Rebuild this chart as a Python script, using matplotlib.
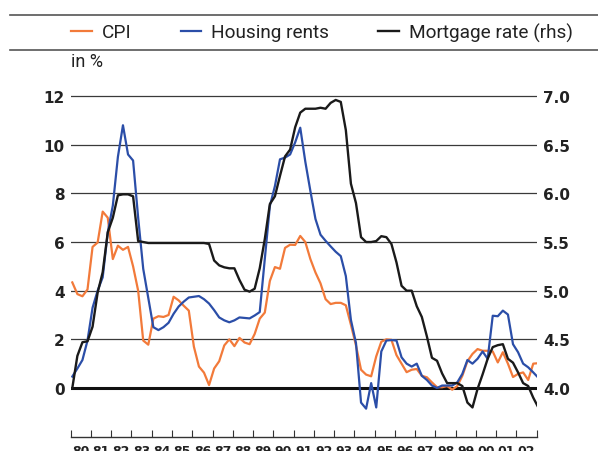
import numpy as np
import matplotlib
matplotlib.use("Agg")
import matplotlib.pyplot as plt
from matplotlib.lines import Line2D

# quarterly readings, 1980 Q1 .. 2003 Q1
cpi = [4.34, 3.86, 3.77, 4.05, 5.8, 5.98, 7.25, 7.0, 5.3, 5.85, 5.68, 5.8, 5.0, 4.0, 1.95, 1.78,
       2.85, 2.95, 2.92, 3.0, 3.75, 3.6, 3.38, 3.18, 1.7, 0.88, 0.63, 0.12, 0.8, 1.1, 1.75, 2.0,
       1.72, 2.06, 1.87, 1.8, 2.22, 2.85, 3.1, 4.4, 4.97, 4.9, 5.76, 5.89, 5.88, 6.25, 6.0, 5.3,
       4.75, 4.3, 3.65, 3.45, 3.5, 3.5, 3.4, 2.6, 1.75, 0.75, 0.55, 0.48, 1.3, 1.9, 2.0, 1.98,
       1.35, 1.0, 0.65, 0.75, 0.78, 0.5, 0.44, 0.23, 0.03, 0.03, 0.08, -0.07, 0.08, 0.5, 1.1, 1.4,
       1.6, 1.53, 1.53, 1.5, 1.05, 1.47, 1.0, 0.45, 0.58, 0.64, 0.33, 1.0, 1.02]
rents = [0.47, 0.8, 1.15, 1.95, 3.3, 4.0, 4.55, 6.4, 7.5, 9.5, 10.8, 9.6, 9.35, 7.0, 4.9, 3.7,
         2.5, 2.38, 2.5, 2.68, 3.05, 3.35, 3.55, 3.72, 3.75, 3.78, 3.65, 3.47, 3.2, 2.9, 2.78, 2.7,
         2.78, 2.9, 2.88, 2.86, 2.98, 3.12, 5.3, 7.48, 8.3, 9.4, 9.47, 9.6, 10.1, 10.7, 9.3, 8.1,
         6.95, 6.3, 6.05, 5.82, 5.6, 5.42, 4.6, 2.8, 1.85, -0.6, -0.85, 0.2, -0.8, 1.5, 1.95, 1.97,
         1.95, 1.26, 1.0, 0.88, 1.0, 0.5, 0.33, 0.1, 0.0, 0.1, 0.1, 0.1, 0.23, 0.58, 1.15, 1.0,
         1.2, 1.5, 1.2, 2.97, 2.95, 3.18, 3.02, 1.8, 1.47, 1.0, 0.85, 0.64, 0.42]
mortgage = [4.0, 4.33, 4.47, 4.48, 4.63, 4.98, 5.19, 5.6, 5.75, 5.98, 5.99, 5.99, 5.97, 5.51, 5.5, 5.49,
            5.49, 5.49, 5.49, 5.49, 5.49, 5.49, 5.49, 5.49, 5.49, 5.49, 5.49, 5.48, 5.31, 5.26, 5.24, 5.23,
            5.23, 5.11, 5.01, 4.99, 5.02, 5.23, 5.53, 5.89, 5.97, 6.18, 6.38, 6.45, 6.68, 6.83, 6.87, 6.87,
            6.87, 6.88, 6.87, 6.93, 6.96, 6.94, 6.65, 6.1, 5.9, 5.55, 5.5, 5.5, 5.51, 5.56, 5.55, 5.48,
            5.29, 5.05, 5.0, 5.0, 4.84, 4.73, 4.53, 4.31, 4.28, 4.15, 4.05, 4.05, 4.05, 4.02, 3.85, 3.8,
            3.99, 4.14, 4.3, 4.42, 4.44, 4.45, 4.3, 4.26, 4.16, 4.05, 4.02, 3.9, 3.8]
dates = 1980.08 + 0.25 * np.arange(len(cpi))

years = list(range(1980, 2004))
year_labels = ['%02d' % (y % 100) for y in range(1980, 2003)]
left_ticks = list(range(0, 13, 2))
right_ticks = [4.0, 4.5, 5.0, 5.5, 6.0, 6.5, 7.0]

ORANGE = '#f27a3a'
BLUE = '#2b4ea8'
BLACK = '#1a1a1a'

fig = plt.figure(figsize=(5.98, 4.52), dpi=100)
ax = fig.add_axes([0.1182, 0.0856, 0.7793, 0.7104])
ax.set_xlim(1980, 2003)
ax.set_ylim(-1.0, 12.2)
ax2 = ax.twinx()
ax2.set_ylim(4 + ax.get_ylim()[0] / 4, 4 + ax.get_ylim()[1] / 4)

ax.set_yticks(left_ticks)
ax.yaxis.grid(True, color='#3a3a3a', lw=0.9)
ax.set_axisbelow(True)
ax.axhline(0, color='#111111', lw=2.2, zorder=1.5)

l1, = ax.plot(dates, cpi, color=ORANGE, lw=1.6, zorder=3)
l2, = ax.plot(dates, rents, color=BLUE, lw=1.6, zorder=3)
l3, = ax2.plot(dates, mortgage, color=BLACK, lw=1.7)

for s in ['top', 'left', 'right']:
    ax.spines[s].set_visible(False)
for s in ax2.spines.values():
    s.set_visible(False)
ax.spines['bottom'].set_position(('outward', 17.8))
ax.spines['bottom'].set_color('#333333')
ax.spines['bottom'].set_linewidth(1.0)

ax.set_xticks(years)
ax.set_xticklabels([])
ax.set_xticks([y + 0.5 for y in range(1980, 2003)], minor=True)
ax.set_xticklabels(year_labels, minor=True, fontsize=9, fontweight='bold', color='#222222')
ax.tick_params(axis='x', which='major', direction='in', length=5, width=0.8, color='#333333')
ax.tick_params(axis='x', which='minor', length=0, pad=5)

ax.set_yticklabels([str(t) for t in left_ticks], fontsize=11, fontweight='bold', color='#222222')
ax.tick_params(axis='y', length=0, pad=4.3)
ax2.set_yticks(right_ticks)
ax2.set_yticklabels(['%.1f' % t for t in right_ticks], fontsize=11, fontweight='bold', color='#222222')
ax2.tick_params(axis='y', length=0, pad=4.5)

fig.legend([l1, l2, l3], ['CPI', 'Housing rents', 'Mortgage rate (rhs)'],
           loc='center left', bbox_to_anchor=(71 / 598, 1 - 33 / 452), ncol=3, frameon=False,
           prop={'family': ['Roboto', 'DejaVu Sans'], 'size': 13.7},
           handlelength=1.1, handletextpad=0.5, columnspacing=2.6,
           borderpad=0, borderaxespad=0, labelcolor='#222222')

for yy in [16, 51]:
    fig.add_artist(Line2D([10 / 598, 1.0], [1 - yy / 452] * 2, transform=fig.transFigure,
                          color='#555555', lw=1.2))
fig.text(71 / 598, 1 - 62 / 452, 'in %', ha='left', va='center', fontsize=13,
         family=['Roboto', 'DejaVu Sans'], color='#222222')

fig.savefig('out.png', dpi=100)
